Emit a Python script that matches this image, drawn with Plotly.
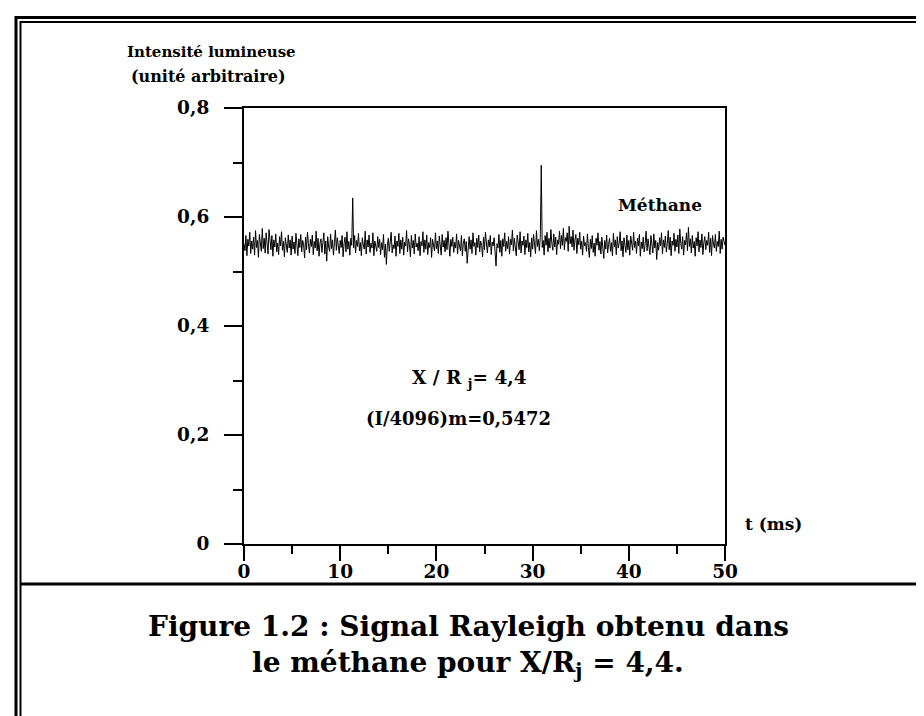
import plotly.graph_objects as go

# ---- data ----
t_step = 0.1  # ms between samples
signal = [
    0.551, 0.538, 0.566, 0.529, 0.559, 0.547, 0.572, 0.533, 0.556, 0.541,
    0.563, 0.530, 0.575, 0.544, 0.557, 0.526, 0.568, 0.549, 0.537, 0.579,
    0.542, 0.561, 0.534, 0.571, 0.548, 0.532, 0.577, 0.553, 0.540, 0.566,
    0.528, 0.558, 0.545, 0.569, 0.536, 0.552, 0.531, 0.564, 0.547, 0.573,
    0.539, 0.555, 0.527, 0.562, 0.550, 0.535, 0.567, 0.543, 0.558, 0.530,
    0.565, 0.541, 0.554, 0.533, 0.570, 0.546, 0.529, 0.560, 0.544, 0.568,
    0.536, 0.557, 0.549, 0.525, 0.563, 0.540, 0.572, 0.551, 0.534, 0.559,
    0.546, 0.567, 0.531, 0.555, 0.543, 0.574, 0.538, 0.561, 0.528, 0.552,
    0.560, 0.535, 0.548, 0.571, 0.532, 0.556, 0.519, 0.564, 0.545, 0.537,
    0.569, 0.542, 0.558, 0.530, 0.553, 0.576, 0.539, 0.562, 0.547, 0.533,
    0.557, 0.544, 0.566, 0.527, 0.551, 0.563, 0.536, 0.573, 0.541, 0.555,
    0.530, 0.561, 0.548, 0.635, 0.543, 0.566, 0.534, 0.557, 0.546, 0.570,
    0.538, 0.553, 0.529, 0.562, 0.549, 0.541, 0.574, 0.532, 0.558, 0.545,
    0.567, 0.535, 0.552, 0.543, 0.571, 0.529, 0.556, 0.548, 0.537, 0.564,
    0.544, 0.559, 0.531, 0.553, 0.540, 0.568, 0.526, 0.550, 0.513, 0.547,
    0.561, 0.537, 0.555, 0.572, 0.534, 0.549, 0.542, 0.565, 0.528, 0.556,
    0.546, 0.570, 0.533, 0.558, 0.541, 0.563, 0.530, 0.554, 0.547, 0.575,
    0.536, 0.560, 0.549, 0.527, 0.566, 0.543, 0.557, 0.532, 0.569, 0.545,
    0.552, 0.538, 0.564, 0.529, 0.555, 0.547, 0.573, 0.535, 0.558, 0.541,
    0.567, 0.531, 0.553, 0.544, 0.562, 0.526, 0.559, 0.550, 0.538, 0.571,
    0.542, 0.556, 0.533, 0.565, 0.548, 0.530, 0.568, 0.545, 0.557, 0.536,
    0.562, 0.540, 0.574, 0.551, 0.528, 0.559, 0.546, 0.563, 0.535, 0.554,
    0.543, 0.569, 0.532, 0.557, 0.548, 0.538, 0.566, 0.529, 0.552, 0.560,
    0.537, 0.555, 0.515, 0.549, 0.564, 0.541, 0.558, 0.533, 0.571, 0.546,
    0.553, 0.530, 0.561, 0.544, 0.567, 0.536, 0.556, 0.548, 0.527, 0.563,
    0.540, 0.572, 0.549, 0.534, 0.558, 0.545, 0.566, 0.531, 0.554, 0.547,
    0.562, 0.539, 0.510, 0.551, 0.543, 0.568, 0.535, 0.557, 0.528, 0.560,
    0.546, 0.571, 0.537, 0.555, 0.542, 0.564, 0.532, 0.559, 0.549, 0.576,
    0.538, 0.561, 0.545, 0.529, 0.567, 0.552, 0.540, 0.573, 0.534, 0.556,
    0.548, 0.565, 0.531, 0.558, 0.544, 0.570, 0.536, 0.553, 0.527, 0.562,
    0.541, 0.568, 0.550, 0.533, 0.575, 0.546, 0.559, 0.538, 0.563, 0.695,
    0.544, 0.557, 0.530, 0.566, 0.548, 0.572, 0.536, 0.561, 0.543, 0.577,
    0.552, 0.539, 0.569, 0.545, 0.563, 0.531, 0.558, 0.550, 0.574, 0.542,
    0.566, 0.548, 0.579, 0.540, 0.562, 0.555, 0.571, 0.537, 0.583, 0.551,
    0.564, 0.545, 0.576, 0.539, 0.558, 0.568, 0.533, 0.561, 0.549, 0.572,
    0.541, 0.556, 0.530, 0.565, 0.547, 0.553, 0.537, 0.569, 0.544, 0.526,
    0.559, 0.542, 0.566, 0.535, 0.552, 0.528, 0.561, 0.548, 0.571, 0.539,
    0.555, 0.532, 0.563, 0.546, 0.524, 0.557, 0.541, 0.567, 0.534, 0.550,
    0.561, 0.537, 0.553, 0.529, 0.570, 0.545, 0.558, 0.531, 0.564, 0.543,
    0.552, 0.573, 0.538, 0.556, 0.527, 0.562, 0.549, 0.535, 0.567, 0.540,
    0.557, 0.530, 0.565, 0.548, 0.539, 0.572, 0.544, 0.556, 0.533, 0.561,
    0.547, 0.568, 0.528, 0.554, 0.542, 0.563, 0.536, 0.551, 0.574, 0.538,
    0.560, 0.545, 0.531, 0.566, 0.550, 0.534, 0.569, 0.543, 0.557, 0.522,
    0.553, 0.539, 0.562, 0.547, 0.571, 0.532, 0.558, 0.544, 0.565, 0.536,
    0.551, 0.575, 0.540, 0.563, 0.529, 0.556, 0.548, 0.570, 0.537, 0.559,
    0.545, 0.567, 0.533, 0.578, 0.552, 0.541, 0.564, 0.530, 0.557, 0.549,
    0.571, 0.538, 0.581, 0.546, 0.560, 0.534, 0.566, 0.543, 0.555, 0.528,
    0.562, 0.547, 0.573, 0.536, 0.558, 0.544, 0.569, 0.531, 0.553, 0.564,
    0.540, 0.557, 0.548, 0.572, 0.535, 0.561, 0.529, 0.566, 0.550, 0.543,
    0.568, 0.537, 0.555, 0.546, 0.574, 0.533, 0.559, 0.541, 0.563, 0.552,
    0.548,
]
time_ms = [i * t_step for i in range(len(signal))]

x_tickvals = [0, 10, 20, 30, 40, 50]
x_ticktext = ["0", "10", "20", "30", "40", "50"]
y_tickvals = [0, 0.2, 0.4, 0.6, 0.8]
y_ticktext = ["0", "0,2", "0,4", "0,6", "0,8"]

# ---- layout geometry (pixels) ----
W, H = 924, 716
L, R, T, B = 236, 717, 100, 536
FONT = "DejaVu Serif"


def px(xp):
    return (xp - L) / (R - L)


def py(yp):
    return (B - yp) / (B - T)


fig = go.Figure()
fig.add_trace(go.Scatter(
    x=time_ms, y=signal, mode="lines",
    line=dict(color="black", width=1),
    showlegend=False, hoverinfo="skip",
))

axis_common = dict(
    showline=True, linecolor="black", linewidth=2, mirror=True,
    showgrid=False, zeroline=False, ticks="outside", tickcolor="black",
    tickwidth=2,
    tickfont=dict(family=FONT, size=18.5, color="black", weight="bold"),
)

fig.update_xaxes(
    range=[0, 50], tickvals=x_tickvals, ticktext=x_ticktext, ticklen=15,
    ticklabelstandoff=-5,
    minor=dict(dtick=5, ticklen=8, tickwidth=2, ticks="outside",
               tickcolor="black", showgrid=False),
    **axis_common,
)
fig.update_yaxes(
    range=[0, 0.8], tickvals=y_tickvals, ticktext=y_ticktext, ticklen=18,
    ticklabelstandoff=11,
    minor=dict(dtick=0.1, ticklen=9, tickwidth=2, ticks="outside",
               tickcolor="black", showgrid=False),
    **axis_common,
)

shapes = []
def hline(y, x0, x1, w):
    shapes.append(dict(type="line", xref="paper", yref="paper",
                       x0=px(x0), x1=px(x1), y0=py(y), y1=py(y),
                       line=dict(color="black", width=w)))

def vline(x, y0, y1, w):
    shapes.append(dict(type="line", xref="paper", yref="paper",
                       x0=px(x), x1=px(x), y0=py(y0), y1=py(y1),
                       line=dict(color="black", width=w)))

# double frame
vline(8, 8, 716, 3)
vline(12.5, 13, 716, 2)
hline(9.5, 7, 924, 3)
hline(14, 12, 924, 2)
# separator above caption
hline(576, 12, 924, 3)

annots = []
def text(x, y, s, size, xanchor="center", yanchor="middle"):
    annots.append(dict(x=px(x), y=py(y), xref="paper", yref="paper",
                       text=s, showarrow=False, xanchor=xanchor, yanchor=yanchor,
                       font=dict(family=FONT, size=size, color="black", weight="bold")))

text(117, 44, "Intensité lumineuse", 15, xanchor="left")
text(121, 69, "(unité arbitraire)", 16, xanchor="left")
text(652, 197, "Méthane", 17)
text(735, 516, "t (ms)", 17, xanchor="left")
text(461, 371, "X / R <sub>j</sub>= 4,4", 18.5)
text(450, 410, "(I/4096)m=0,5472", 18)
text(460, 618, "Figure 1.2 : Signal Rayleigh obtenu dans", 28)
text(460, 656, "le méthane pour X/R<sub>j</sub> = 4,4.", 28)

fig.update_layout(
    width=W, height=H, autosize=False,
    margin=dict(l=L, r=W - R, t=T, b=H - B, pad=0),
    paper_bgcolor="white", plot_bgcolor="white",
    shapes=shapes, annotations=annots,
    font=dict(family=FONT, color="black"),
)

fig.write_html("out.html")
